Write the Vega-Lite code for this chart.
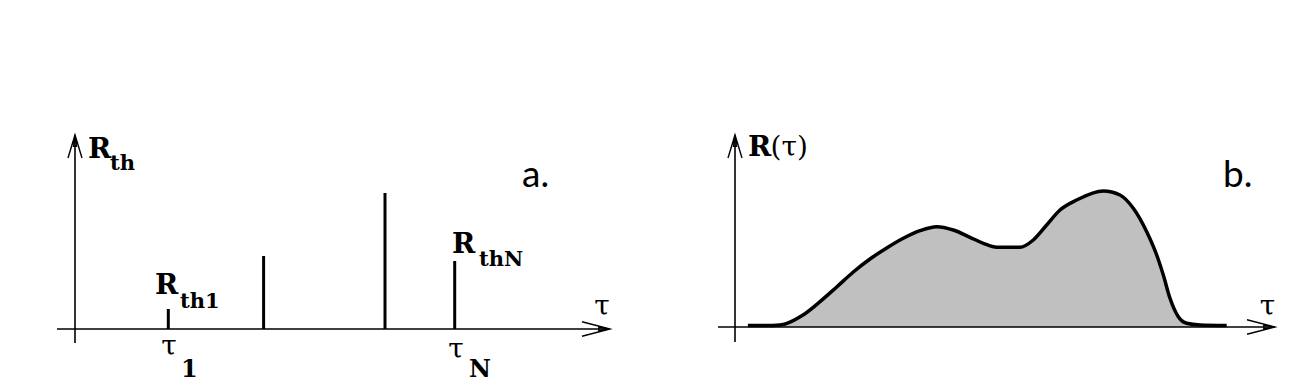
{
  "$schema": "https://vega.github.io/schema/vega-lite/v6.json",
  "padding": 0,
  "spacing": 0,
  "background": "white",
  "config": {"view": {"stroke": null}, "concat": {"spacing": 0}},
  "datasets": {
    "axes": [
      {"panel": "a", "t1": 0, "r1": -0.14, "t2": 0, "r2": 1.94},
      {"panel": "a", "t1": -0.18, "r1": 0, "t2": 5.35, "r2": 0},
      {"panel": "b", "t1": 0, "r1": -0.15, "t2": 0, "r2": 1.92},
      {"panel": "b", "t1": -0.17, "r1": 0, "t2": 5.40, "r2": 0}
    ],
    "arrows": [
      {"panel": "a", "tau": 0, "R": 1.94, "dir": "up"},
      {"panel": "a", "tau": 5.35, "R": 0, "dir": "right"},
      {"panel": "b", "tau": 0, "R": 1.92, "dir": "up"},
      {"panel": "b", "tau": 5.40, "R": 0, "dir": "right"}
    ],
    "spikes": [
      {"tau": 0.933, "R": 0.20},
      {"tau": 1.886, "R": 0.73},
      {"tau": 3.10, "R": 1.36},
      {"tau": 3.797, "R": 0.68}
    ],
    "curve": [
      {"tau": 0.129, "R": 0.015},
      {"tau": 0.30, "R": 0.015},
      {"tau": 0.45, "R": 0.02},
      {"tau": 0.68, "R": 0.12},
      {"tau": 0.85, "R": 0.253},
      {"tau": 1.017, "R": 0.40},
      {"tau": 1.183, "R": 0.55},
      {"tau": 1.35, "R": 0.68},
      {"tau": 1.517, "R": 0.79},
      {"tau": 1.683, "R": 0.887},
      {"tau": 1.85, "R": 0.963},
      {"tau": 2.017, "R": 1.003},
      {"tau": 2.183, "R": 0.97},
      {"tau": 2.35, "R": 0.897},
      {"tau": 2.483, "R": 0.837},
      {"tau": 2.617, "R": 0.797},
      {"tau": 2.85, "R": 0.797},
      {"tau": 2.983, "R": 0.87},
      {"tau": 3.117, "R": 1.02},
      {"tau": 3.25, "R": 1.17},
      {"tau": 3.417, "R": 1.27},
      {"tau": 3.683, "R": 1.36},
      {"tau": 3.85, "R": 1.32},
      {"tau": 3.983, "R": 1.187},
      {"tau": 4.117, "R": 0.953},
      {"tau": 4.217, "R": 0.72},
      {"tau": 4.283, "R": 0.52},
      {"tau": 4.35, "R": 0.287},
      {"tau": 4.433, "R": 0.103},
      {"tau": 4.517, "R": 0.037},
      {"tau": 4.65, "R": 0.02},
      {"tau": 4.917, "R": 0.015}
    ],
    "labels": [
      {"panel": "a", "kind": "R", "tau": 0.13, "R": 1.71, "text": "R"},
      {"panel": "a", "kind": "sub", "tau": 0.35, "R": 1.59, "text": "th"},
      {"panel": "a", "kind": "R", "tau": 0.80, "R": 0.35, "text": "R"},
      {"panel": "a", "kind": "sub", "tau": 1.05, "R": 0.21, "text": "th1"},
      {"panel": "a", "kind": "R", "tau": 3.77, "R": 0.76, "text": "R"},
      {"panel": "a", "kind": "sub", "tau": 4.04, "R": 0.63, "text": "thN"},
      {"panel": "a", "kind": "tau", "tau": 0.94, "R": -0.26, "text": "τ"},
      {"panel": "a", "kind": "tausub", "tau": 1.06, "R": -0.48, "text": "1"},
      {"panel": "a", "kind": "tau", "tau": 3.81, "R": -0.29, "text": "τ"},
      {"panel": "a", "kind": "tausub", "tau": 3.94, "R": -0.48, "text": "N"},
      {"panel": "a", "kind": "tau", "tau": 5.27, "R": 0.14, "text": "τ"},
      {"panel": "a", "kind": "panel", "tau": 4.47, "R": 1.42, "text": "a."},
      {"panel": "b", "kind": "R", "tau": 0.13, "R": 1.71, "text": "R"},
      {"panel": "b", "kind": "paren", "tau": 0.355, "R": 1.71, "text": "(τ)"},
      {"panel": "b", "kind": "tau", "tau": 5.325, "R": 0.12, "text": "τ"},
      {"panel": "b", "kind": "panel", "tau": 4.88, "R": 1.40, "text": "b."}
    ]
  },
  "hconcat": [
    {
      "width": 640,
      "height": 390,
      "layer": [
        {
          "data": {"name": "axes"},
          "transform": [{"filter": "datum.panel == 'a'"}],
          "mark": {"type": "rule", "color": "black", "strokeWidth": 1.6},
          "encoding": {
            "x": {"field": "t1", "type": "quantitative", "scale": {"domain": [-0.75, 5.65], "nice": false, "zero": false}, "axis": null},
            "x2": {"field": "t2"},
            "y": {"field": "r1", "type": "quantitative", "scale": {"domain": [-0.61, 3.29], "nice": false, "zero": false}, "axis": null},
            "y2": {"field": "r2"}
          }
        },
        {
          "data": {"name": "arrows"},
          "transform": [{"filter": "datum.panel == 'a'"}],
          "mark": {"type": "point", "filled": false, "stroke": "black", "strokeWidth": 1.4, "size": 3136, "opacity": 1},
          "encoding": {
            "x": {"field": "tau", "type": "quantitative", "scale": {"domain": [-0.75, 5.65], "nice": false, "zero": false}, "axis": null},
            "y": {"field": "R", "type": "quantitative", "scale": {"domain": [-0.61, 3.29], "nice": false, "zero": false}, "axis": null},
            "shape": {"field": "dir", "type": "nominal", "legend": null, "scale": {"domain": ["right", "up"], "range": ["M-1,-0.26L0,0L-1,0.26M-0.4,-0.05L0,0L-0.4,0.05Z", "M-0.25,0.82L0,0L0.25,0.82M-0.05,0.4L0,0L0.05,0.4Z"]}}
          }
        },
        {
          "data": {"name": "spikes"},
          "mark": {"type": "rule", "color": "black", "strokeWidth": 3},
          "encoding": {
            "x": {"field": "tau", "type": "quantitative", "scale": {"domain": [-0.75, 5.65], "nice": false, "zero": false}, "axis": null},
            "y": {"field": "R", "type": "quantitative", "scale": {"domain": [-0.61, 3.29], "nice": false, "zero": false}, "axis": null},
            "y2": {"datum": 0}
          }
        },
        {
          "data": {"name": "labels"},
          "transform": [{"filter": "datum.panel == 'a' && datum.kind == 'R'"}],
          "mark": {"type": "text", "font": "DejaVu Serif", "fontWeight": "bold", "fontSize": 28, "align": "left", "baseline": "alphabetic", "color": "black"},
          "encoding": {
            "x": {"field": "tau", "type": "quantitative", "scale": {"domain": [-0.75, 5.65], "nice": false, "zero": false}, "axis": null},
            "y": {"field": "R", "type": "quantitative", "scale": {"domain": [-0.61, 3.29], "nice": false, "zero": false}, "axis": null},
            "text": {"field": "text"}
          }
        },
        {
          "data": {"name": "labels"},
          "transform": [{"filter": "datum.panel == 'a' && datum.kind == 'sub'"}],
          "mark": {"type": "text", "font": "DejaVu Serif", "fontWeight": "bold", "fontSize": 21, "align": "left", "baseline": "alphabetic", "color": "black"},
          "encoding": {
            "x": {"field": "tau", "type": "quantitative", "scale": {"domain": [-0.75, 5.65], "nice": false, "zero": false}, "axis": null},
            "y": {"field": "R", "type": "quantitative", "scale": {"domain": [-0.61, 3.29], "nice": false, "zero": false}, "axis": null},
            "text": {"field": "text"}
          }
        },
        {
          "data": {"name": "labels"},
          "transform": [{"filter": "datum.panel == 'a' && datum.kind == 'tau'"}],
          "mark": {"type": "text", "font": "DejaVu Serif", "fontSize": 28, "align": "center", "baseline": "alphabetic", "color": "black"},
          "encoding": {
            "x": {"field": "tau", "type": "quantitative", "scale": {"domain": [-0.75, 5.65], "nice": false, "zero": false}, "axis": null},
            "y": {"field": "R", "type": "quantitative", "scale": {"domain": [-0.61, 3.29], "nice": false, "zero": false}, "axis": null},
            "text": {"field": "text"}
          }
        },
        {
          "data": {"name": "labels"},
          "transform": [{"filter": "datum.panel == 'a' && datum.kind == 'tausub'"}],
          "mark": {"type": "text", "font": "DejaVu Serif", "fontWeight": 600, "fontSize": 24, "align": "left", "baseline": "alphabetic", "color": "black"},
          "encoding": {
            "x": {"field": "tau", "type": "quantitative", "scale": {"domain": [-0.75, 5.65], "nice": false, "zero": false}, "axis": null},
            "y": {"field": "R", "type": "quantitative", "scale": {"domain": [-0.61, 3.29], "nice": false, "zero": false}, "axis": null},
            "text": {"field": "text"}
          }
        },
        {
          "data": {"name": "labels"},
          "transform": [{"filter": "datum.panel == 'a' && datum.kind == 'panel'"}],
          "mark": {"type": "text", "font": "Lato", "fontSize": 37, "align": "left", "baseline": "alphabetic", "color": "black"},
          "encoding": {
            "x": {"field": "tau", "type": "quantitative", "scale": {"domain": [-0.75, 5.65], "nice": false, "zero": false}, "axis": null},
            "y": {"field": "R", "type": "quantitative", "scale": {"domain": [-0.61, 3.29], "nice": false, "zero": false}, "axis": null},
            "text": {"field": "text"}
          }
        }
      ]
    },
    {
      "width": 676,
      "height": 390,
      "layer": [
        {
          "data": {"name": "curve"},
          "mark": {"type": "area", "color": "#c0c0c0", "interpolate": "monotone", "opacity": 1},
          "encoding": {
            "x": {"field": "tau", "type": "quantitative", "scale": {"domain": [-0.95, 5.81], "nice": false, "zero": false}, "axis": null},
            "y": {"field": "R", "type": "quantitative", "scale": {"domain": [-0.63, 3.27], "nice": false, "zero": false}, "axis": null},
            "y2": {"datum": 0}
          }
        },
        {
          "data": {"name": "axes"},
          "transform": [{"filter": "datum.panel == 'b'"}],
          "mark": {"type": "rule", "color": "black", "strokeWidth": 1.6},
          "encoding": {
            "x": {"field": "t1", "type": "quantitative", "scale": {"domain": [-0.95, 5.81], "nice": false, "zero": false}, "axis": null},
            "x2": {"field": "t2"},
            "y": {"field": "r1", "type": "quantitative", "scale": {"domain": [-0.63, 3.27], "nice": false, "zero": false}, "axis": null},
            "y2": {"field": "r2"}
          }
        },
        {
          "data": {"name": "arrows"},
          "transform": [{"filter": "datum.panel == 'b'"}],
          "mark": {"type": "point", "filled": false, "stroke": "black", "strokeWidth": 1.4, "size": 3136, "opacity": 1},
          "encoding": {
            "x": {"field": "tau", "type": "quantitative", "scale": {"domain": [-0.95, 5.81], "nice": false, "zero": false}, "axis": null},
            "y": {"field": "R", "type": "quantitative", "scale": {"domain": [-0.63, 3.27], "nice": false, "zero": false}, "axis": null},
            "shape": {"field": "dir", "type": "nominal", "legend": null, "scale": {"domain": ["right", "up"], "range": ["M-1,-0.26L0,0L-1,0.26M-0.4,-0.05L0,0L-0.4,0.05Z", "M-0.25,0.82L0,0L0.25,0.82M-0.05,0.4L0,0L0.05,0.4Z"]}}
          }
        },
        {
          "data": {"name": "curve"},
          "mark": {"type": "line", "color": "black", "strokeWidth": 3.5, "interpolate": "monotone"},
          "encoding": {
            "x": {"field": "tau", "type": "quantitative", "scale": {"domain": [-0.95, 5.81], "nice": false, "zero": false}, "axis": null},
            "y": {"field": "R", "type": "quantitative", "scale": {"domain": [-0.63, 3.27], "nice": false, "zero": false}, "axis": null}
          }
        },
        {
          "data": {"name": "labels"},
          "transform": [{"filter": "datum.panel == 'b' && datum.kind == 'R'"}],
          "mark": {"type": "text", "font": "DejaVu Serif", "fontWeight": "bold", "fontSize": 28, "align": "left", "baseline": "alphabetic", "color": "black"},
          "encoding": {
            "x": {"field": "tau", "type": "quantitative", "scale": {"domain": [-0.95, 5.81], "nice": false, "zero": false}, "axis": null},
            "y": {"field": "R", "type": "quantitative", "scale": {"domain": [-0.63, 3.27], "nice": false, "zero": false}, "axis": null},
            "text": {"field": "text"}
          }
        },
        {
          "data": {"name": "labels"},
          "transform": [{"filter": "datum.panel == 'b' && datum.kind == 'paren'"}],
          "mark": {"type": "text", "font": "DejaVu Serif", "fontSize": 28, "align": "left", "baseline": "alphabetic", "color": "black"},
          "encoding": {
            "x": {"field": "tau", "type": "quantitative", "scale": {"domain": [-0.95, 5.81], "nice": false, "zero": false}, "axis": null},
            "y": {"field": "R", "type": "quantitative", "scale": {"domain": [-0.63, 3.27], "nice": false, "zero": false}, "axis": null},
            "text": {"field": "text"}
          }
        },
        {
          "data": {"name": "labels"},
          "transform": [{"filter": "datum.panel == 'b' && datum.kind == 'tau'"}],
          "mark": {"type": "text", "font": "DejaVu Serif", "fontSize": 28, "align": "center", "baseline": "alphabetic", "color": "black"},
          "encoding": {
            "x": {"field": "tau", "type": "quantitative", "scale": {"domain": [-0.95, 5.81], "nice": false, "zero": false}, "axis": null},
            "y": {"field": "R", "type": "quantitative", "scale": {"domain": [-0.63, 3.27], "nice": false, "zero": false}, "axis": null},
            "text": {"field": "text"}
          }
        },
        {
          "data": {"name": "labels"},
          "transform": [{"filter": "datum.panel == 'b' && datum.kind == 'panel'"}],
          "mark": {"type": "text", "font": "Lato", "fontSize": 37, "align": "left", "baseline": "alphabetic", "color": "black"},
          "encoding": {
            "x": {"field": "tau", "type": "quantitative", "scale": {"domain": [-0.95, 5.81], "nice": false, "zero": false}, "axis": null},
            "y": {"field": "R", "type": "quantitative", "scale": {"domain": [-0.63, 3.27], "nice": false, "zero": false}, "axis": null},
            "text": {"field": "text"}
          }
        }
      ]
    }
  ]
}
